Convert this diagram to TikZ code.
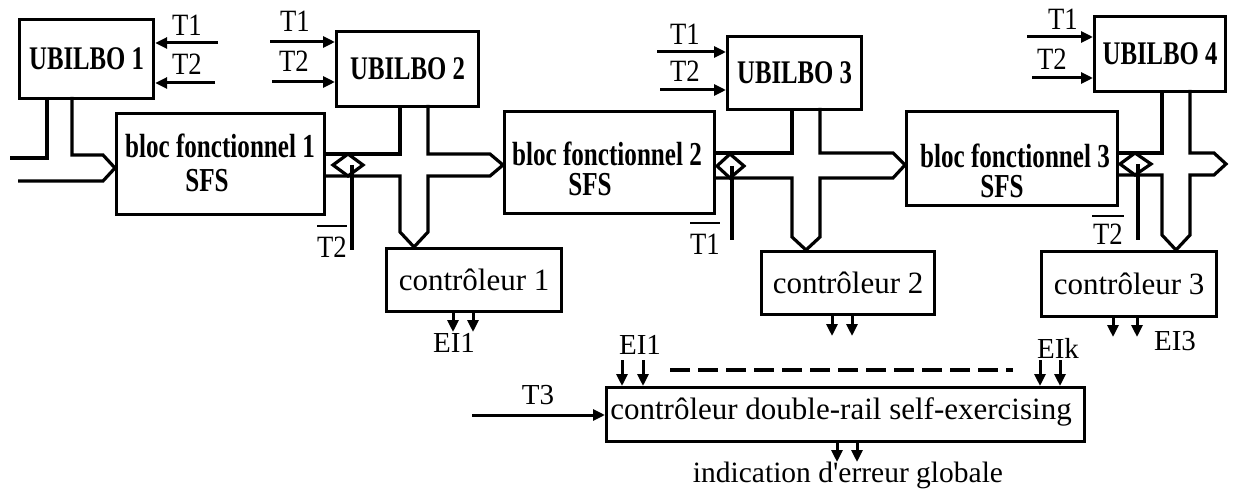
\documentclass[tikz,border=0pt]{standalone}
\usepackage{fontspec}
\setmainfont{Liberation Serif}
\newfontfamily\condfont{Liberation Serif}[FakeStretch=0.75]
\newfontfamily\tfont{Liberation Serif}[FakeStretch=0.86]
\usetikzlibrary{arrows.meta}
\begin{document}
\begin{tikzpicture}[x=1pt,y=-1pt,
  every node/.style={inner sep=0pt},
  ln/.style={line width=3.2pt, line join=miter},
  box/.style={draw, line width=3.2pt, anchor=north west, inner sep=0pt},
  arr/.style={line width=3pt, -{Triangle[length=12pt,width=11pt]}},
  ol/.style={line width=2.4pt},
  ubt/.style={font=\condfont\bfseries\fontsize{33}{36}\selectfont},
  blt/.style={font=\condfont\bfseries\fontsize{33.5}{36}\selectfont},
  ctl/.style={font=\fontsize{31}{34}\selectfont},
  lab/.style={font=\tfont\fontsize{31}{34}\selectfont},
  labr/.style={font=\fontsize{29}{32}\selectfont},
]
\useasboundingbox (0,0) rectangle (1236,494);

% UBILBO boxes
\node[box, minimum width=134pt, minimum height=79pt, ubt] (U1) at (18,18) {UBILBO 1};
\node[box, minimum width=142pt, minimum height=75pt, ubt] (U2) at (335,30) {UBILBO 2};
\node[box, minimum width=134pt, minimum height=73pt, ubt] (U3) at (726,35) {UBILBO 3};
\node[box, minimum width=131pt, minimum height=75pt, ubt] (U4) at (1093,15) {UBILBO 4};

% functional blocks
\node[box, minimum width=208pt, minimum height=101pt] (B1) at (115,112) {};
\node[box, minimum width=210pt, minimum height=102pt] (B2) at (503,110) {};
\node[box, minimum width=211pt, minimum height=94pt] (B3) at (905,110) {};
\node[blt] (B1a) at (220,146) {bloc fonctionnel 1};
\node[blt] (B1b) at (207,181) {SFS};
\node[blt] (B2a) at (607,154) {bloc fonctionnel 2};
\node[blt] (B2b) at (590,185) {SFS};
\node[blt] (B3a) at (1015,156) {bloc fonctionnel 3};
\node[blt] (B3b) at (1002,187) {SFS};

% controllers
\node[box, minimum width=175pt, minimum height=63pt, ctl] (C1) at (385,247) {contrôleur 1};
\node[box, minimum width=173pt, minimum height=63pt, ctl] (C2) at (760,250) {contrôleur 2};
\node[box, minimum width=175pt, minimum height=65pt, ctl] (C3) at (1040,250) {contrôleur 3};
\node[box, minimum width=478pt, minimum height=54pt] (DR) at (605,386) {};
\node[ctl] (DRt) at (841,412) {contrôleur double-rail self-exercising};

% T1 / T2 inputs
\coordinate (a11) at (218,43); \coordinate (a12) at (215,83);
\draw[arr] (a11) -- (a11 -| U1.east);
\draw[arr] (a12) -- (a12 -| U1.east);
\node[lab] (l11) at (187,25) {T1};
\node[lab] (l12) at (187,64) {T2};

\coordinate (a21) at (270,42); \coordinate (a22) at (272,82);
\draw[arr] (a21) -- (a21 -| U2.west);
\draw[arr] (a22) -- (a22 -| U2.west);
\node[lab] (l21) at (295,21) {T1};
\node[lab] (l22) at (294,61) {T2};

\coordinate (a31) at (657,52); \coordinate (a32) at (660,90);
\draw[arr] (a31) -- (a31 -| U3.west);
\draw[arr] (a32) -- (a32 -| U3.west);
\node[lab] (l31) at (685,34) {T1};
\node[lab] (l32) at (685,71) {T2};

\coordinate (a41) at (1027,37); \coordinate (a42) at (1032,78);
\draw[arr] (a41) -- (a41 -| U4.west);
\draw[arr] (a42) -- (a42 -| U4.west);
\node[lab] (l41) at (1063,19) {T1};
\node[lab] (l42) at (1052,59) {T2};

% bus into block 1
\draw[ln] (47,97) -- (47,158) -- (10,158);
\draw[ln] (72,97) -- (72,155) -- (103,155) -- (115,168) -- (103,181) -- (18,181);

% bus block1 -> block2 / UBILBO2 -> controller 1
\draw[ln] (323,154) -- (400,154) -- (400,105);
\draw[ln] (428,105) -- (428,154) -- (490,154) -- (503,165) -- (490,176) -- (428,176)
  -- (428,232) -- (414,247) -- (400,232) -- (400,176) -- (323,176);
\draw[ln] (333,165) -- (348,154) -- (363,165) -- (348,176) -- cycle;
\draw[ln] (352,165) -- (352,250);
\node[lab] (n1) at (332,247) {T2};
\draw[ol] (317,226) -- (347,226);

% bus block2 -> block3 / UBILBO3 -> controller 2
\draw[ln] (713,153) -- (792,153) -- (792,108);
\draw[ln] (820,108) -- (820,153) -- (893,153) -- (905,165) -- (893,178) -- (820,178)
  -- (820,237) -- (806,250) -- (792,237) -- (792,178) -- (713,178);
\draw[ln] (717,166) -- (730,154) -- (744,166) -- (730,178) -- cycle;
\draw[ln] (732,166) -- (732,240);
\node[lab] (n2) at (705,244) {T1};
\draw[ol] (690,223) -- (720,223);

% bus block3 -> out / UBILBO4 -> controller 3
\draw[ln] (1116,153) -- (1162,153) -- (1162,90);
\draw[ln] (1190,90) -- (1190,153) -- (1214,153) -- (1226,164) -- (1214,175) -- (1190,175)
  -- (1190,235) -- (1176,250) -- (1162,235) -- (1162,175) -- (1116,175);
\draw[ln] (1120,164) -- (1135,153) -- (1151,164) -- (1135,175) -- cycle;
\draw[ln] (1138,164) -- (1138,240);
\node[lab] (n3) at (1108,234) {T2};
\draw[ol] (1092,216) -- (1124,216);

% controller outputs
\coordinate (o11) at (453,332); \coordinate (o12) at (473,332);
\draw[arr] (o11 |- C1.south) -- (o11);
\draw[arr] (o12 |- C1.south) -- (o12);
\node[labr] (e1) at (454,343) {EI1};

\coordinate (o21) at (832,336); \coordinate (o22) at (852,336);
\draw[arr] (o21 |- C2.south) -- (o21);
\draw[arr] (o22 |- C2.south) -- (o22);

\coordinate (o31) at (1113,337); \coordinate (o32) at (1137,337);
\draw[arr] (o31 |- C3.south) -- (o31);
\draw[arr] (o32 |- C3.south) -- (o32);
\node[labr] (e3) at (1175,341) {EI3};

% double-rail inputs
\coordinate (i1) at (622,360); \coordinate (i2) at (643,360);
\coordinate (i3) at (1040,360); \coordinate (i4) at (1060,360);
\draw[arr] (i1) -- (i1 |- DR.north);
\draw[arr] (i2) -- (i2 |- DR.north);
\draw[arr] (i3) -- (i3 |- DR.north);
\draw[arr] (i4) -- (i4 |- DR.north);
\node[labr] (ei1) at (640,345) {EI1};
\node[labr] (eik) at (1058,348) {EIk};
\coordinate (d1) at (670,370); \coordinate (d2) at (1013,370);
\draw[ln, dash pattern=on 20pt off 8pt] (d1) -- (d2);

\coordinate (t3) at (472,415);
\draw[arr] (t3) -- (t3 -| DR.west);
\node[labr] (t3l) at (538,395) {T3};

\coordinate (g1) at (837,462); \coordinate (g2) at (857,462);
\draw[arr] (g1 |- DR.south) -- (g1);
\draw[arr] (g2 |- DR.south) -- (g2);
\node[font=\fontsize{29.5}{32}\selectfont] (ind) at (848,475) {indication d\textquotesingle erreur globale};
\end{tikzpicture}
\end{document}
